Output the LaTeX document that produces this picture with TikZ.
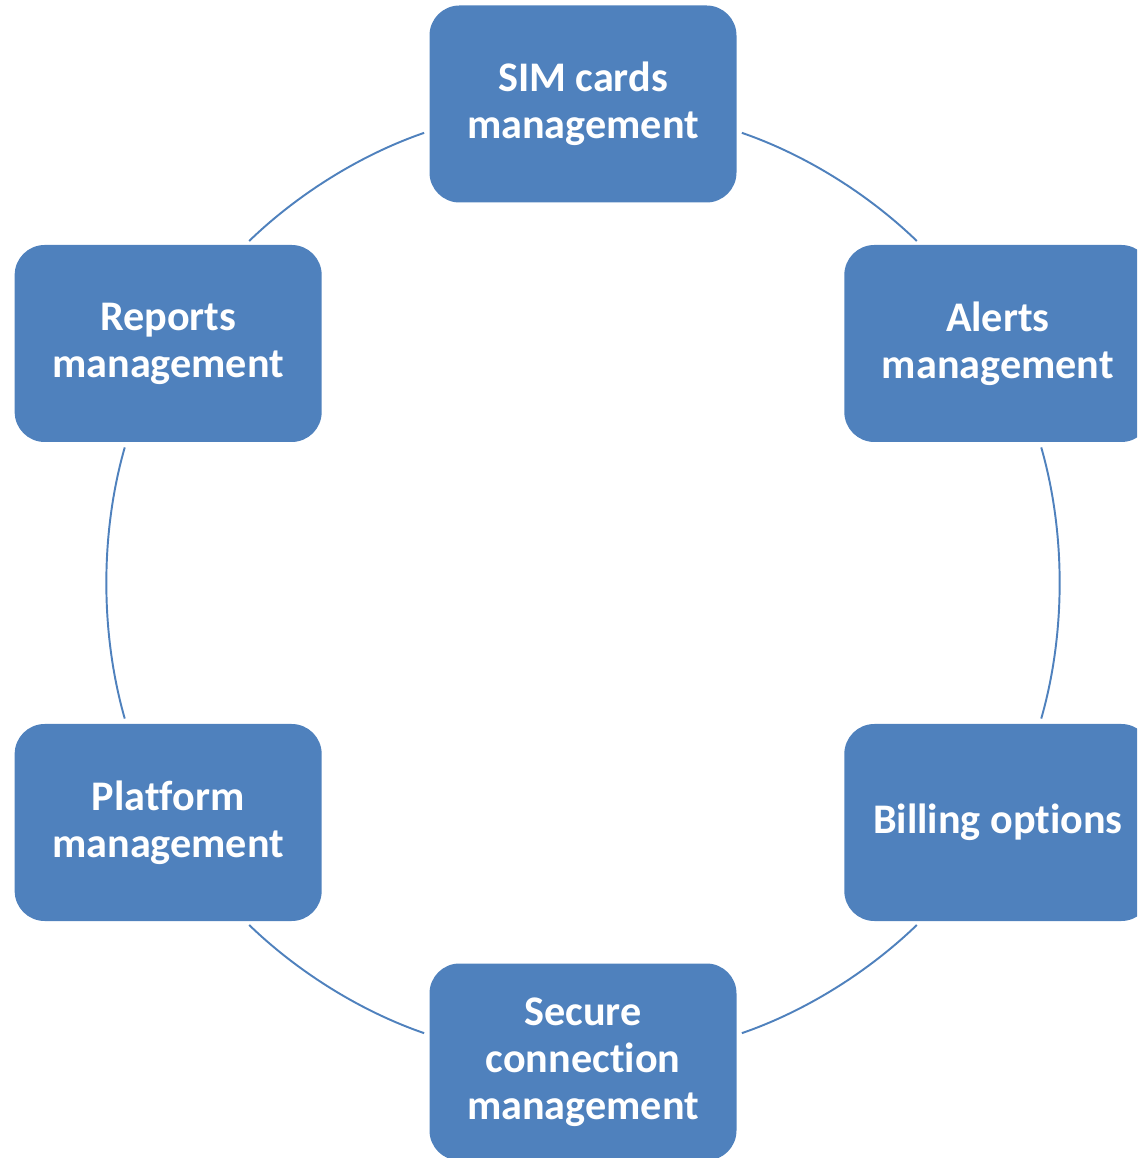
\documentclass[tikz,border=0pt]{standalone}
\usepackage{fontspec}
\setmainfont[Ligatures=NoCommon]{Carlito}
\usetikzlibrary{positioning}
\definecolor{boxblue}{RGB}{79,129,189}
\tikzset{
    task/.style={rectangle, rounded corners=0.6cm, fill=boxblue, text=white,
        minimum width=6.14cm, minimum height=3.94cm, align=center,
        font=\fontsize{24}{26.7}\selectfont\bfseries, inner sep=0pt},
    ring/.style={draw=boxblue, line width=1.1pt, looseness=0.86,
        shorten <=3pt, shorten >=3pt},
}

\begin{document}
\begin{tikzpicture}
                \useasboundingbox (-11.66,-11.5) rectangle (11.08,11.66);
                \clip (-11.66,-11.5) rectangle (11.08,11.66);

                \node[task] (sim) at (90:9.58) {SIM cards\\management};
                \node[task] (alerts) at (30:9.58) {Alerts\\management};
                \node[task] (billing) at (-30:9.58) {Billing options};
                \node[task] (secure) at (-90:9.58) {Secure\\connection\\management};
                \node[task] (platform) at (-150:9.58) {Platform\\management};
                \node[task] (reports) at (150:9.58) {Reports\\management};

                \draw[ring] (sim.-10) to[out=-19, in=136] (alerts.128);
                \draw[ring] (alerts.-67) to[out=-74, in=74] (billing.67);
                \draw[ring] (billing.-128) to[out=-136, in=19] (secure.10);
                \draw[ring] (secure.170) to[out=161, in=-44] (platform.-52);
                \draw[ring] (platform.113) to[out=106, in=-106] (reports.-113);
                \draw[ring] (reports.52) to[out=44, in=-161] (sim.190);
            \end{tikzpicture}
\end{document}
